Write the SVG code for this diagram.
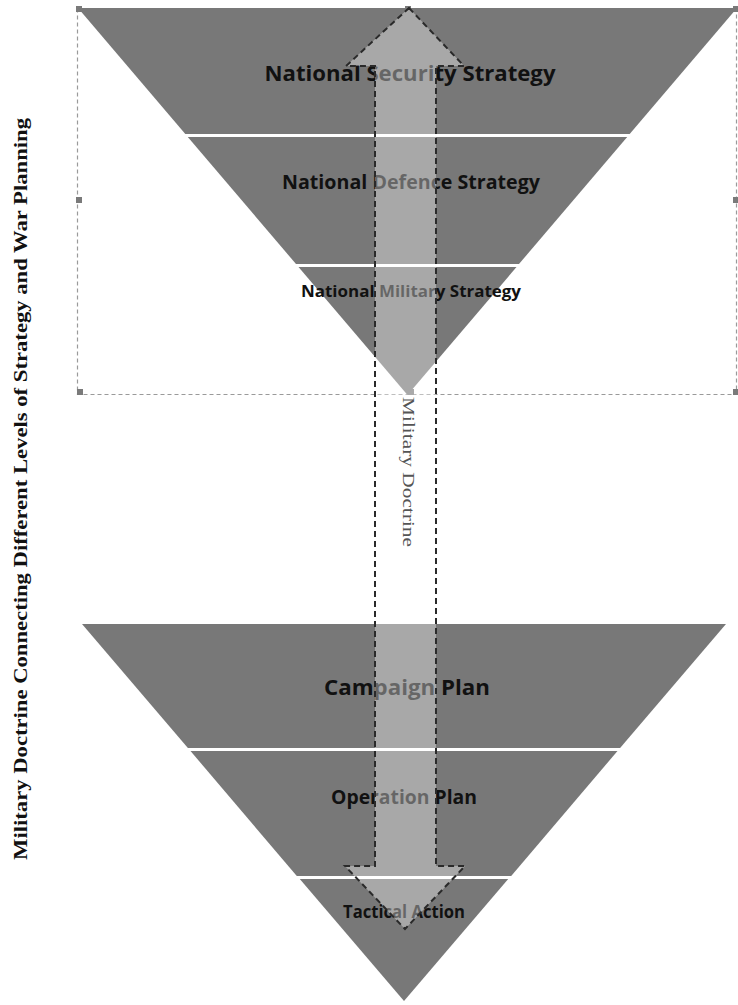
<svg xmlns="http://www.w3.org/2000/svg" width="738" height="1005" viewBox="0 0 738 1005">
<style>
.band{fill:#787878;}
.lbl{font-family:"Open Sans","Liberation Sans",sans-serif;font-weight:bold;fill:#111;text-anchor:middle;}
.sel{fill:none;stroke:#9a9a9a;stroke-width:1.2;stroke-dasharray:4 3;}
.hdl{fill:#7a7a7a;}
.arrow{fill:#ffffff;fill-opacity:0.36;stroke:#2a2a2a;stroke-width:2;stroke-dasharray:6 4;}
.doc{font-family:"Liberation Serif","Times New Roman",serif;font-size:17px;fill:#555;}
.title{font-family:"Liberation Serif","Times New Roman",serif;font-weight:bold;font-size:18px;fill:#111;text-anchor:middle;}
</style>
<rect width="738" height="1005" fill="#ffffff"/>
<g id="selection">
<rect class="sel" x="77.5" y="8.5" width="659" height="386"/>
<rect class="hdl" x="76" y="6" width="6" height="6"/>
<rect class="hdl" x="405" y="6" width="6" height="6"/>
<rect class="hdl" x="733" y="6" width="6" height="6"/>
<rect class="hdl" x="76" y="197" width="6" height="6"/>
<rect class="hdl" x="733" y="197" width="6" height="6"/>
<rect class="hdl" x="77" y="389" width="6" height="6"/>
<rect class="hdl" x="408" y="389" width="6" height="6"/>
<rect class="hdl" x="733" y="389" width="6" height="6"/>
</g>
<g id="national-security-strategy">
<polygon class="band" points="78,8 737,8 629.7,134 185.3,134"/>
<text class="lbl" x="410" y="81" font-size="21.5" textLength="291" lengthAdjust="spacingAndGlyphs">National Security Strategy</text>
</g>
<g id="national-defence-strategy">
<polygon class="band" points="187.8,137 627.2,137 519,264 296,264"/>
<text class="lbl" x="411" y="189" font-size="19.5" textLength="258" lengthAdjust="spacingAndGlyphs">National Defence Strategy</text>
</g>
<g id="national-military-strategy">
<polygon class="band" points="298.5,267 516.5,267 407.5,395"/>
<text class="lbl" x="411" y="297" font-size="16.5" textLength="220" lengthAdjust="spacingAndGlyphs">National Military Strategy</text>
</g>
<g id="campaign-plan">
<polygon class="band" points="82,624 726,624 620.1,748 187.9,748"/>
<text class="lbl" x="407" y="695" font-size="21" textLength="166" lengthAdjust="spacingAndGlyphs">Campaign Plan</text>
</g>
<g id="operation-plan">
<polygon class="band" points="190.5,751 617.5,751 511.2,876 296.8,876"/>
<text class="lbl" x="404" y="804" font-size="19" textLength="146" lengthAdjust="spacingAndGlyphs">Operation Plan</text>
</g>
<g id="tactical-action">
<polygon class="band" points="299.8,879 508.2,879 404,1001"/>
<text class="lbl" x="404" y="918" font-size="17" textLength="122" lengthAdjust="spacingAndGlyphs">Tactical Action</text>
</g>
<g id="connectors">
<polygon class="arrow" points="409,8 464,66 436,66 436,866 465,866 405,929 345,866 375,866 375,66 346,66"/>
<text class="doc" transform="translate(403,397) rotate(90)" textLength="150" lengthAdjust="spacingAndGlyphs">Military Doctrine</text>
</g>
<g id="title">
<text class="title" transform="translate(27,489) rotate(-90)" textLength="742" lengthAdjust="spacingAndGlyphs">Military Doctrine Connecting Different Levels of Strategy and War Planning</text>
</g>
</svg>
